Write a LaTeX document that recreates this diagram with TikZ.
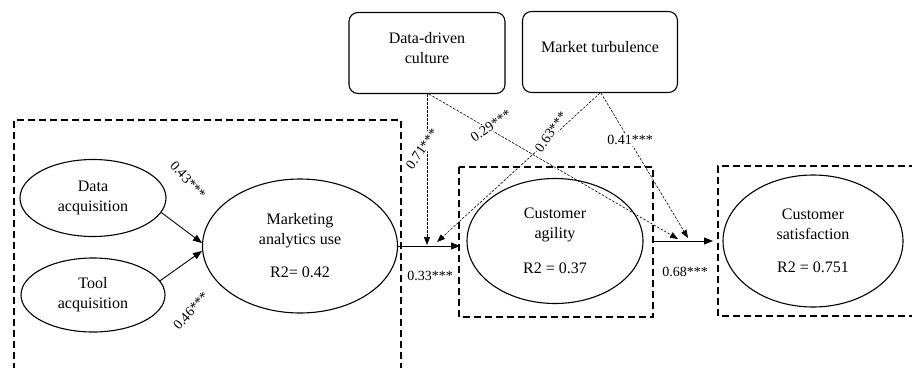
\documentclass[tikz,border=0pt]{standalone}
\usepackage{fontspec}
\setmainfont{Liberation Serif}
\usetikzlibrary{arrows.meta}
\usetikzlibrary{shapes.geometric}

\begin{document}
\begin{tikzpicture}[x=1pt, y=-1pt,
  every node/.style={font=\fontsize{16}{20}\selectfont},
  construct/.style={draw, ellipse, line width=1.1pt, align=center, inner sep=0pt},
  moderator/.style={draw, rounded corners=9pt, line width=1.1pt, align=center,
    minimum width=156pt, minimum height=81pt},
  block/.style={line width=1.3pt, dash pattern=on 7pt off 4pt},
  effect/.style={-{Triangle[length=9pt, width=7pt]}, line width=0.9pt},
  modline/.style={-{Triangle[length=8pt, width=6pt]}, line width=0.6pt,
    dash pattern=on 2.5pt off 1.5pt},
  coef/.style={font=\fontsize{14}{16}\selectfont, inner sep=1pt},
]

  \useasboundingbox (0,0) rectangle (912,367);

  % ---------- Dashed blocks ----------
  \draw[block] (14,370) -- (14,120) -- (401,120) -- (401,370);
  \draw[block] (459,167) rectangle (653,317);
  \draw[block] (916,166) -- (718,166) -- (718,316) -- (916,316);

  % ---------- Constructs ----------
  \node[construct, minimum width=146pt, minimum height=77pt] at (93,198) (da) {Data\\acquisition};
  \node[construct, minimum width=144pt, minimum height=74pt] at (93,295) (ta) {Tool\\acquisition};
  \node[construct, minimum width=195pt, minimum height=134pt] at (300,246) (mau) {Marketing\\analytics use\\[13pt]R2= 0.42};
  \node[construct, minimum width=176pt, minimum height=125pt] at (555,241) (ca) {Customer\\agility\\[15pt]R2 = 0.37};
  \node[construct, minimum width=180pt, minimum height=132pt] at (813,241) (cs) {Customer\\satisfaction\\[13pt]R2 = 0.751};

  % ---------- Moderators ----------
  \node[moderator] at (427,53) (ddc) {Data-driven\\culture\\[-10pt]~};
  \node[moderator, minimum width=155pt] at (600,52) (mt) {Market turbulence\\[-10pt]~};

  % ---------- Paths ----------
  \coordinate (caIn) at (460,246);
  \coordinate (caOut) at (653,241);
  \coordinate (csIn) at (713,241);

  \draw[effect] (da.-12) -- ([yshift=3pt]mau.west);
  \draw[effect] (ta.12) -- ([yshift=-5pt]mau.west);
  \draw[effect] (mau.east) -- (mau.east -| caIn);
  \draw[effect] (caOut) -- (csIn);

  % ---------- Moderating effects ----------
  \coordinate (m1) at (427,245);
  \coordinate (m2) at (437,242);
  \coordinate (m3) at (678,239);
  \coordinate (m4) at (688,238);

  \draw[modline] (ddc.south) -- (m1);
  \draw[modline] ([xshift=2pt]ddc.south) -- (m3);
  \draw[modline] (mt.south) -- (m2);
  \draw[modline] ([xshift=1pt]mt.south) -- (m4);

  % ---------- Coefficients ----------
  \node[coef, rotate=-48] at (188,180) (b1) {0.43***};
  \node[coef, rotate=48] at (191,311) (b2) {0.46***};
  \node[coef, fill=white, rotate=55] at (422,149) (b3) {0.71***};
  \node[coef, fill=white, rotate=34] at (491,126) (b4) {0.29***};
  \node[coef, fill=white, rotate=55] at (551,132) (b5) {0.63***};
  \node[coef, fill=white] at (630,140) (b6) {0.41***};
  \node[coef] at (430,276) (b7) {0.33***};
  \node[coef] at (685,272) (b8) {0.68***};
\end{tikzpicture}
\end{document}
